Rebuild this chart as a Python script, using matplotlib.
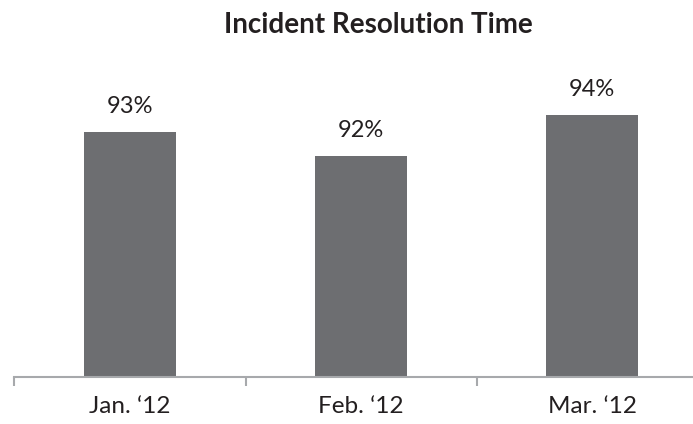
import matplotlib
matplotlib.use("Agg")
import matplotlib.pyplot as plt
import numpy as np

# monthly share of incidents resolved on time
months = ["Jan. \u201812", "Feb. \u201812", "Mar. \u201812"]
resolved_pct = [93.0, 92.0, 93.7]

bar_color = "#6d6e71"
axis_color = "#a7a9ac"
text_color = "#231f20"

plt.rcParams['font.family'] = ['Lato', 'DejaVu Sans']

fig = plt.figure(figsize=(6.93, 4.24), dpi=100)
ax = fig.add_axes([14.5 / 693, 47 / 424, 678.5 / 693, 317 / 424])

x = np.arange(len(months))
bars = ax.bar(x, resolved_pct, width=0.4, color=bar_color, zorder=2)

for b, v in zip(bars, resolved_pct):
    ax.annotate("{:.0f}%".format(v), (b.get_x() + b.get_width() / 2, v),
                xytext=(0, 13.5), textcoords="offset points",
                ha="center", va="baseline", fontsize=17, color=text_color)

ax.set_xlim(-0.5, 2.437)
ax.set_ylim(82.8, 96.0)

# separator ticks between categories, labels sit under the bars
ax.set_xticks(x - 0.5)
ax.set_xticklabels([])
ax.tick_params(axis="x", which="major", length=6.5, width=1.5, color=axis_color, direction="out")
ax.set_xticks(x, minor=True)
ax.set_xticklabels(months, minor=True, fontsize=17.5, color=text_color)
ax.tick_params(axis="x", which="minor", length=0, pad=14)

ax.set_yticks([])
for side in ["top", "right", "left"]:
    ax.spines[side].set_visible(False)
ax.spines["bottom"].set_color(axis_color)
ax.spines["bottom"].set_linewidth(1.5)

fig.text(378 / 693, 1 - 33 / 424, "Incident Resolution Time", ha="center", va="baseline",
         fontsize=20, fontweight="bold", color=text_color)

fig.savefig("out.png", dpi=100)
